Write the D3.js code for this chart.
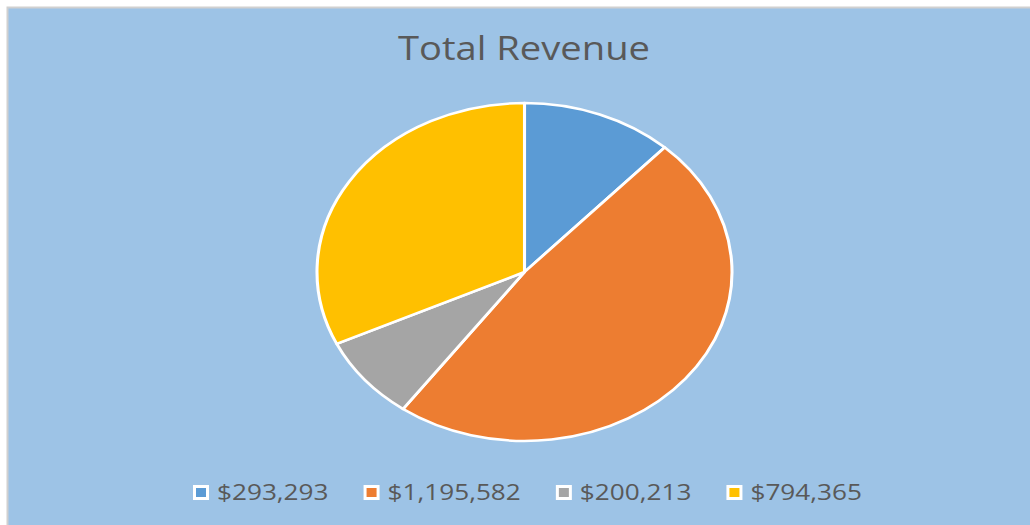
<!DOCTYPE html>
<html>
<head>
<meta charset="utf-8">
<script src="https://cdn.jsdelivr.net/npm/d3@7"></script>
<style>
  html, body { margin: 0; padding: 0; background: #ffffff; }
  svg { display: block; }
</style>
</head>
<body>
<svg id="chart" width="1030" height="525"></svg>
<script>
const title = "Total Revenue";
const categories = ["$293,293", "$1,195,582", "$200,213", "$794,365"];
const values = [293293, 1195582, 200213, 794365];
const colors = ["#5B9BD5", "#ED7D31", "#A5A5A5", "#FFC000"];

const svg = d3.select("#chart");
const W = 1030, H = 525;

// chart area background
svg.append("rect")
  .attr("x", 7.5).attr("y", 7.5)
  .attr("width", W).attr("height", H)
  .attr("fill", "#9DC3E6")
  .attr("stroke", "#D0D0D0")
  .attr("stroke-width", 2);

// Title
const fontFam = "'Open Sans', 'Noto Sans', 'DejaVu Sans', sans-serif";
const t = svg.append("text")
  .attr("font-family", fontFam)
  .attr("font-size", 32)
  .attr("fill", "#595959")
  .attr("text-anchor", "middle")
  .text(title);
const tw = t.node().getComputedTextLength();
const tsx = 252 / tw;
t.attr("transform", `translate(524,59.5) scale(${tsx},1)`);

// Pie (stretched horizontally like the reference)
const cx = 524.5, cy = 272, ry = 169, rx = 207.5;
const pie = d3.pie().sort(null).value(d => d)(values);
const arc = d3.arc().innerRadius(0).outerRadius(ry);
const g = svg.append("g").attr("transform", `translate(${cx},${cy}) scale(${rx / ry},1)`);
g.selectAll("path").data(pie).join("path")
  .attr("d", arc)
  .attr("fill", (d, i) => colors[i])
  .attr("stroke", "#ffffff")
  .attr("stroke-width", 2.5)
  .attr("stroke-linejoin", "round");

// Legend
const legFont = 21;
const leg = svg.append("g");
const items = leg.selectAll("g").data(categories).join("g");
items.append("text")
  .attr("font-family", fontFam)
  .attr("font-size", legFont)
  .attr("fill", "#595959")
  .text(d => d);
const widths = [];
items.selectAll("text").each(function () { widths.push(this.getComputedTextLength()); });
const lsx = 468 / d3.sum(widths);
let x = 193;
const baseY = 500;
items.each(function (d, i) {
  const it = d3.select(this);
  it.insert("rect", "text")
    .attr("x", x).attr("y", baseY - 15)
    .attr("width", 16).attr("height", 15)
    .attr("fill", "#ffffff");
  it.insert("rect", "text")
    .attr("x", x + 3).attr("y", baseY - 12)
    .attr("width", 10).attr("height", 9)
    .attr("fill", colors[i]);
  const tx = x + 24;
  it.select("text").attr("transform", `translate(${tx},${baseY}) scale(${lsx},1)`);
  x = tx + widths[i] * lsx + 35;
});
</script>
</body>
</html>
